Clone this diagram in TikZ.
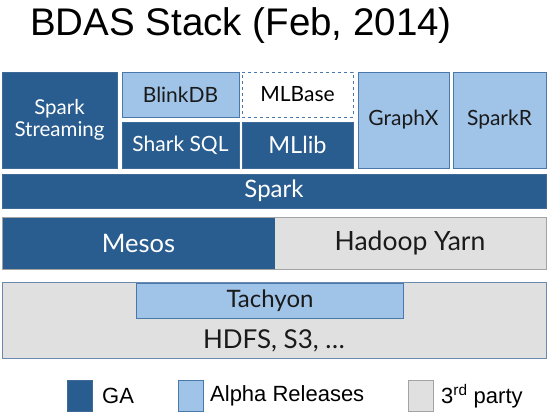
\documentclass[tikz,border=0pt]{standalone}
\usepackage{fontspec}
\setmainfont{Liberation Sans}
\newfontfamily\gill{Lato}
\definecolor{gablue}{HTML}{2A5D8F}
\definecolor{gaborder}{HTML}{3E6A98}
\definecolor{alphablue}{HTML}{A0C3E8}
\definecolor{alphaborder}{HTML}{4A78AA}
\definecolor{thirdgray}{HTML}{E0E0E0}
\definecolor{thirdborder}{HTML}{A3A3A3}
\definecolor{storeborder}{HTML}{6A8AB0}
\definecolor{textdark}{HTML}{1A1A1A}
\tikzset{
  box/.style={inner sep=0pt, outer sep=0pt, align=center, font=\gill\fontsize{21}{24}\selectfont},
  gabox/.style={box, fill=gablue, draw=gaborder, line width=1pt, text=white},
  alphabox/.style={box, fill=alphablue, draw=alphaborder, line width=1pt, text=textdark},
  thirdbox/.style={box, fill=thirdgray, draw=thirdborder, line width=1pt, text=textdark},
  planbox/.style={box, fill=white, draw=alphaborder, dashed, line width=0.8pt, text=black},
  legsq/.style={inner sep=0pt, outer sep=0pt, minimum width=25, minimum height=31, line width=1pt},
  legtxt/.style={inner sep=0pt, anchor=west, font=\fontsize{22}{26}\selectfont, text=black}
}
\begin{document}
\begin{tikzpicture}[x=1pt,y=-1pt]
\useasboundingbox[fill=white] (0,0) rectangle (550,415);
\node[inner sep=0pt, anchor=base, font=\fontsize{38.5}{44}\selectfont] (title) at (241,35) {BDAS Stack (Feb, 2014)};
% top row
\node[gabox, minimum width=115, minimum height=96, font=\gill\fontsize{20.5}{23}\selectfont] (ss) at (59.5,120) {Spark\\[-1pt]Streaming};
\node[alphabox, minimum width=117, minimum height=45] (blink) at (180.5,94.5) {BlinkDB};
\node[gabox, minimum width=117, minimum height=46] (shark) at (180.5,145) {Shark SQL};
\node[planbox, minimum width=111, minimum height=45] (mlbase) at (297.5,94.5) {MLBase};
\node[gabox, minimum width=111, minimum height=46, font=\gill\fontsize{23.5}{26}\selectfont] (mllib) at (297.5,145) {MLlib};
\node[alphabox, minimum width=91, minimum height=96] (graphx) at (403.5,120) {GraphX};
\node[alphabox, minimum width=93, minimum height=96] (sparkr) at (499.5,120) {SparkR};
% spark
\node[gabox, minimum width=544, minimum height=34, font=\gill\fontsize{24}{28}\selectfont] (spark) at (274,191) {Spark};
% resource managers
\node[thirdbox, minimum width=544, minimum height=52] (rm) at (274,243) {};
\node[gabox, draw=none, minimum width=272, minimum height=51, font=\gill\fontsize{25.5}{30}\selectfont] (mesos) at (138.5,243) {Mesos};
\node[box, minimum width=272, minimum height=51, text=textdark, font=\gill\fontsize{26.5}{30}\selectfont] (yarn) at (410,243) {Hadoop Yarn};
% storage
\node[thirdbox, draw=storeborder, minimum width=544, minimum height=76] (store) at (274,320) {};
\node[alphabox, minimum width=267, minimum height=35, font=\gill\fontsize{24}{28}\selectfont] (tachyon) at (270,300.5) {Tachyon};
\node[box, text=textdark, font=\gill\fontsize{26}{30}\selectfont] (hdfs) at (274,341) {HDFS, S3, \dots};
% legend
\node[legsq, fill=gablue, draw=gaborder] (lga) at (80,396) {};
\node[legtxt] (tga) at (102,396) {GA};
\node[legsq, fill=alphablue, draw=alphaborder] (lalpha) at (191,396) {};
\node[legtxt] (talpha) at (210,396) {Alpha Releases};
\node[legsq, fill=thirdgray, draw=thirdborder] (lthird) at (421,396) {};
\node[legtxt] (tthird) at (441,396) {3\textsuperscript{rd} party};
\end{tikzpicture}
\end{document}
